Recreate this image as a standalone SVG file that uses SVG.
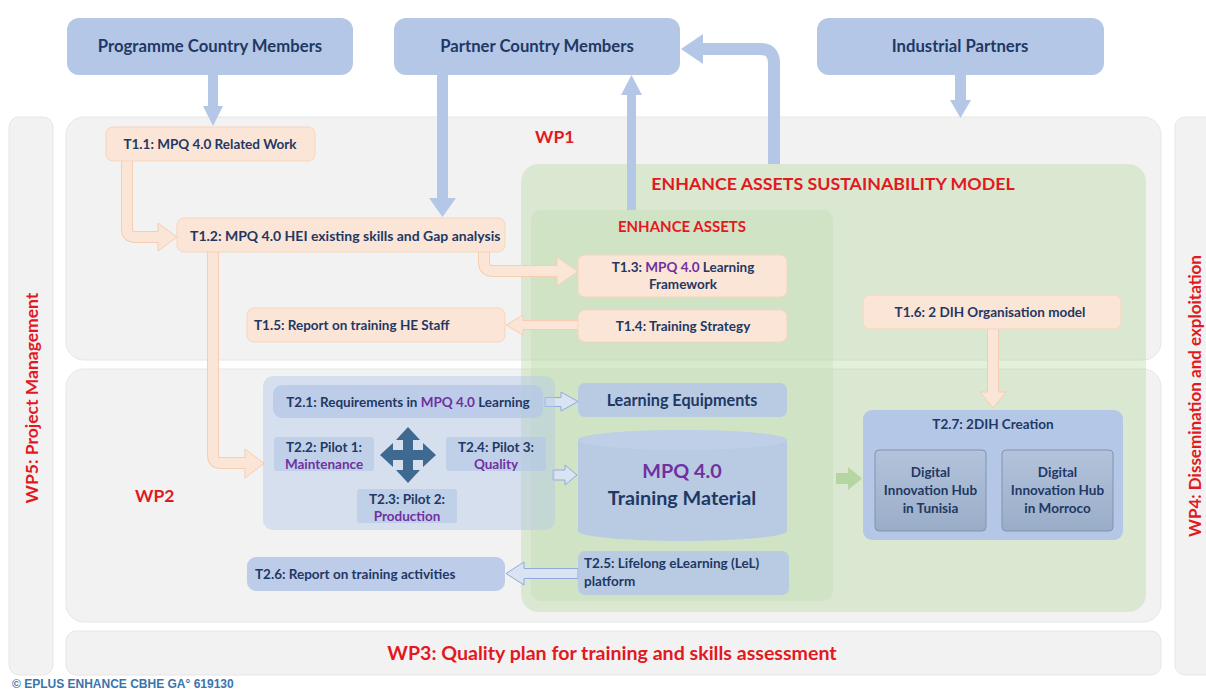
<svg xmlns="http://www.w3.org/2000/svg" width="1206" height="690" viewBox="0 0 1206 690">
<defs>
<style>
.t{font-family:Lato,"Liberation Sans",sans-serif;font-weight:700;fill:#1f3864}
.s{font-size:13.5px}
.red{font-family:Lato,"Liberation Sans",sans-serif;font-weight:700;fill:#e2191e}
.pu{fill:#7030a0}
.panel{fill:#f2f2f2;stroke:#e6e6e6;stroke-width:1}
.top{fill:#b4c7e7}
.peach{fill:#fbe5d6;stroke:#f8d5bd;stroke-width:1}
.blue{fill:#b4c7e7;fill-opacity:0.85}
.barrow{fill:#b4c7e7}
.parrow-o{fill:none;stroke:#f6cdb0;stroke-width:12}
.parrow-i{fill:none;stroke:#fbe5d6;stroke-width:10}
.phead{fill:#fbe5d6;stroke:#f6cdb0;stroke-width:1}
.harrow{fill:#dae3f3;stroke:#8faadc;stroke-width:1}
</style>
<linearGradient id="dih" x1="0" y1="0" x2="0" y2="1">
<stop offset="0" stop-color="#b3c3db"/>
<stop offset="1" stop-color="#9aadc8"/>
</linearGradient>
</defs>
<rect width="1206" height="690" fill="#ffffff"/>

<g id="wp5"><rect x="9" y="117" width="44" height="558" rx="10" class="panel"/>
<text class="red" font-size="17.5" transform="translate(38,398) rotate(-90)" text-anchor="middle">WP5: Project Management</text></g>
<g id="wp4"><rect x="1175" y="117" width="45" height="558" rx="10" class="panel"/>
<text class="red" font-size="17" transform="translate(1201,396) rotate(-90)" text-anchor="middle">WP4: Dissemination and exploitation</text></g>
<g id="wp1"><rect x="66" y="117" width="1095" height="243" rx="18" class="panel"/>
<text class="red" x="535" y="143" font-size="17.5">WP1</text></g>
<g id="wp2"><rect x="66" y="369" width="1095" height="253" rx="18" class="panel"/>
<text class="red" x="135" y="502" font-size="17.5">WP2</text></g>
<g id="wp3"><rect x="66" y="631" width="1095" height="44" rx="10" class="panel"/>
<text class="red" x="612" y="660" font-size="19.6" text-anchor="middle">WP3: Quality plan for training and skills assessment</text></g>

<g id="sustainability"><rect x="521" y="164" width="625" height="448" rx="18" fill="#a9d18e" fill-opacity="0.33"/>
<text class="red" x="833" y="190" font-size="17.8" text-anchor="middle">ENHANCE ASSETS SUSTAINABILITY MODEL</text></g>
<g id="assets"><rect x="531" y="210" width="302" height="391" rx="10" fill="#a9d18e" fill-opacity="0.18"/>
<text class="red" x="682" y="232" font-size="15" text-anchor="middle">ENHANCE ASSETS</text></g>

<g id="programme"><rect x="67" y="18" width="286" height="57" rx="12" class="top"/>
<text class="t" x="210" y="52" font-size="16.7" text-anchor="middle">Programme Country Members</text></g>
<g id="partner"><rect x="394" y="18" width="286" height="57" rx="12" class="top"/>
<text class="t" x="537" y="52" font-size="16.7" text-anchor="middle">Partner Country Members</text></g>
<g id="industrial"><rect x="817" y="18" width="287" height="57" rx="12" class="top"/>
<text class="t" x="960" y="52" font-size="16.7" text-anchor="middle">Industrial Partners</text></g>

<g id="connectors">
<rect x="208" y="75" width="10" height="32" class="barrow"/>
<polygon points="203,106 223,106 213,126" class="barrow"/>
<rect x="437" y="75" width="11" height="124" class="barrow"/>
<polygon points="429,198 456,198 442.5,217" class="barrow"/>
<rect x="627" y="94" width="9" height="116" class="barrow"/>
<polygon points="621,95 642,95 631.5,75" class="barrow"/>
<path d="M774,164 V63 Q774,49 760,49 H700" fill="none" stroke="#b4c7e7" stroke-width="12"/>
<polygon points="703,34 703,64 681,49" class="barrow"/>
<rect x="955" y="75" width="11" height="26" class="barrow"/>
<polygon points="950,100 971,100 960.5,118" class="barrow"/>

<path d="M127,161 V229 Q127,237 135,237 H160" class="parrow-o"/>
<polygon points="158,223 158,251 177,237" class="phead"/>
<path d="M127,160 V229 Q127,237 135,237 H160" class="parrow-i"/>
<path d="M484,252 V262 Q484,271 493,271 H559" class="parrow-o"/>
<polygon points="557,257 557,286 578,271.5" class="phead"/>
<path d="M484,251 V262 Q484,271 493,271 H559" class="parrow-i"/>
<path d="M578,325 H520" fill="none" stroke="#f6cdb0" stroke-width="10"/>
<polygon points="523,315 523,335 506,325" class="phead"/>
<path d="M579,325 H521" fill="none" stroke="#fbe5d6" stroke-width="8"/>
<path d="M213,252 V455 Q213,463 221,463 H247" class="parrow-o"/>
<polygon points="245,449 245,478 264,463.5" class="phead"/>
<path d="M213,251 V455 Q213,463 221,463 H247" class="parrow-i"/>
<path d="M993,329 V393" class="parrow-o"/>
<polygon points="980,392 1006,392 993,408" class="phead"/>
<path d="M993,328 V394" class="parrow-i"/>

<path d="M545,397.5 H561 V392 L578,401.5 L561,411 V406.5 H545 Z" class="harrow"/>
<path d="M553,470 H565 V465 L577,475 L565,485 V480 H553 Z" class="harrow"/>
<path d="M578,568.5 H524 V562 L506,573.5 L524,585 V578.5 H578 Z" class="harrow"/>
<path d="M836,473 H848 V467 L862,478.5 L848,490 V484 H836 Z" fill="#b5d6a1"/>
</g>

<g id="t11"><rect x="106" y="127" width="209" height="34" rx="7" class="peach"/>
<text class="t s" x="210" y="149" text-anchor="middle">T1.1: MPQ 4.0 Related Work</text></g>
<g id="t12"><rect x="177" y="218" width="328" height="34" rx="7" class="peach"/>
<text class="t" x="190" y="241" font-size="14">T1.2: MPQ 4.0 HEI existing skills and Gap analysis</text></g>
<g id="t13"><rect x="578" y="255" width="209" height="42" rx="7" class="peach"/>
<text class="t s" x="683" y="272" text-anchor="middle">T1.3: <tspan class="pu">MPQ 4.0</tspan> Learning</text>
<text class="t s" x="683" y="289" text-anchor="middle">Framework</text></g>
<g id="t14"><rect x="578" y="310" width="209" height="32" rx="7" class="peach"/>
<text class="t s" x="683" y="331" text-anchor="middle">T1.4: Training Strategy</text></g>
<g id="t15"><rect x="247" y="308" width="258" height="34" rx="7" class="peach"/>
<text class="t s" x="254" y="330">T1.5: Report on training HE Staff</text></g>
<g id="t16"><rect x="863" y="295" width="258" height="34" rx="7" class="peach"/>
<text class="t s" x="990" y="317" text-anchor="middle">T1.6: 2 DIH Organisation model</text></g>

<g id="pilots"><rect x="263" y="376" width="292" height="154" rx="10" fill="#b4c7e7" fill-opacity="0.45"/></g>
<g id="t21"><rect x="273" y="385" width="270" height="33" rx="9" fill="#b4c7e7" fill-opacity="0.75"/>
<text class="t s" x="408" y="407" text-anchor="middle">T2.1: Requirements in <tspan class="pu">MPQ 4.0</tspan> Learning</text></g>
<g id="t22"><rect x="274" y="437" width="100" height="34" rx="3" fill="#b4c7e7" fill-opacity="0.65"/>
<text class="t s" x="324" y="452" text-anchor="middle">T2.2: Pilot 1:</text>
<text class="t s pu" x="324" y="469" text-anchor="middle">Maintenance</text></g>
<g id="t24"><rect x="446" y="437" width="100" height="34" rx="3" fill="#b4c7e7" fill-opacity="0.65"/>
<text class="t s" x="496" y="452" text-anchor="middle">T2.4: Pilot 3:</text>
<text class="t s pu" x="496" y="469" text-anchor="middle">Quality</text></g>
<g id="t23"><rect x="357" y="489" width="100" height="34" rx="3" fill="#b4c7e7" fill-opacity="0.65"/>
<text class="t s" x="407" y="504" text-anchor="middle">T2.3: Pilot 2:</text>
<text class="t s pu" x="407" y="521" text-anchor="middle">Production</text></g>
<g id="cross"><path transform="translate(408,455)" d="M0,-28 L12,-15 L5,-15 L5,-5 L15,-5 L15,-12 L28,0 L15,12 L15,5 L5,5 L5,15 L12,15 L0,28 L-12,15 L-5,15 L-5,5 L-15,5 L-15,12 L-28,0 L-15,-12 L-15,-5 L-5,-5 L-5,-15 L-12,-15 Z" fill="#3e6a92"/></g>

<g id="equip"><rect x="578" y="383" width="209" height="34" rx="7" class="blue"/>
<text class="t" x="682" y="406" font-size="16.2" text-anchor="middle">Learning Equipments</text></g>
<g id="material"><path d="M578,440 A104.5,10 0 0 1 787,440 V531 A104.5,10 0 0 1 578,531 Z" class="blue"/>
<ellipse cx="682.5" cy="440" rx="104.5" ry="10" fill="#c3d2ea" fill-opacity="0.6"/>
<text class="t pu" x="682" y="478" font-size="19.8" text-anchor="middle">MPQ 4.0</text>
<text class="t" x="682" y="505" font-size="19.8" text-anchor="middle">Training Material</text></g>
<g id="t25"><rect x="578" y="551" width="211" height="44" rx="7" class="blue"/>
<text class="t s" x="584" y="568">T2.5: Lifelong eLearning (LeL)</text>
<text class="t s" x="584" y="586">platform</text></g>
<g id="t26"><rect x="247" y="557" width="258" height="34" rx="9" fill="#b4c7e7" fill-opacity="0.85"/>
<text class="t s" x="255" y="579">T2.6: Report on training activities</text></g>

<g id="t27"><rect x="863" y="410" width="260" height="130" rx="9" fill="#b4c7e7"/>
<text class="t s" x="993" y="429" text-anchor="middle">T2.7: 2DIH Creation</text></g>
<g id="dih-tunisia"><rect x="875" y="450" width="111" height="81" rx="4" fill="url(#dih)" stroke="#8093ae" stroke-width="1"/>
<text class="t s" x="930.5" y="477" text-anchor="middle">Digital</text>
<text class="t s" x="930.5" y="495" text-anchor="middle">Innovation Hub</text>
<text class="t s" x="930.5" y="513" text-anchor="middle">in Tunisia</text></g>
<g id="dih-morroco"><rect x="1002" y="450" width="111" height="81" rx="4" fill="url(#dih)" stroke="#8093ae" stroke-width="1"/>
<text class="t s" x="1057.5" y="477" text-anchor="middle">Digital</text>
<text class="t s" x="1057.5" y="495" text-anchor="middle">Innovation Hub</text>
<text class="t s" x="1057.5" y="513" text-anchor="middle">in Morroco</text></g>

<text x="12" y="688" font-family="'Liberation Sans',Arial,sans-serif" font-weight="700" font-size="12" fill="#3a74ad">© EPLUS ENHANCE CBHE GA° 619130</text>
</svg>
